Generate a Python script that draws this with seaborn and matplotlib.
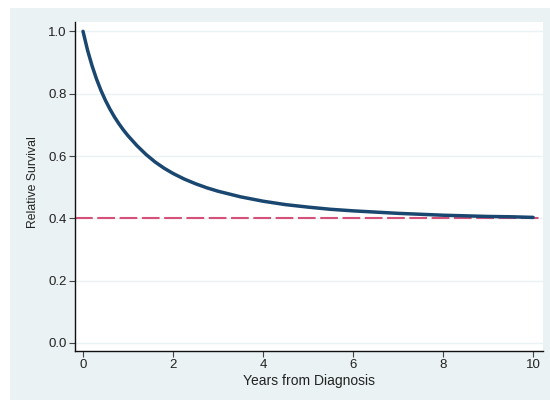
import numpy as np
import pandas as pd
import matplotlib
matplotlib.use("Agg")
import matplotlib.pyplot as plt
from matplotlib.patches import Rectangle
import seaborn as sns

# Valores
years = [0.0, 0.1, 0.2, 0.3, 0.4, 0.5, 0.6, 0.7, 0.8, 0.9, 1.0,
         1.2, 1.4, 1.6, 1.8, 2.0, 2.25, 2.5, 2.75, 3.0, 3.5, 4.0, 4.5,
         5.0, 5.5, 6.0, 6.5, 7.0, 7.5, 8.0, 8.5, 9.0, 9.5, 10.0]
rel_survival = [1.000, 0.940, 0.890, 0.847, 0.810, 0.778, 0.750, 0.725,
                0.703, 0.683, 0.665, 0.633, 0.605, 0.581, 0.561, 0.544,
                0.526, 0.511, 0.498, 0.487, 0.469, 0.455, 0.444, 0.436,
                0.429, 0.424, 0.420, 0.416, 0.413, 0.410, 0.408, 0.406,
                0.405, 0.403]
cure_level = 0.4

x_ticks = [0, 2, 4, 6, 8, 10]
y_ticks = [0.0, 0.2, 0.4, 0.6, 0.8, 1.0]

df = pd.DataFrame({"years": years, "rs": rel_survival})

sns.set_theme(style="white")
plt.rcParams["font.family"] = ["Liberation Sans", "DejaVu Sans"]

BG = "#eaf2f3"
NAVY = "#1a476f"
RED = "#d6517a"

fig = plt.figure(figsize=(5.5, 4), dpi=100)
fig.patch.set_facecolor("white")
fig.patches.append(Rectangle((10 / 550, 0), 540 / 550, 392 / 400,
                             transform=fig.transFigure, facecolor=BG,
                             edgecolor="none", zorder=-10))

ax = fig.add_axes([75 / 550, 49 / 400, 468 / 550, 329 / 400])
ax.set_facecolor("white")

for yv in y_ticks:
    ax.axhline(yv, color=BG, linewidth=1.0, zorder=0)

sns.lineplot(data=df, x="years", y="rs", ax=ax, color=NAVY, linewidth=2.5,
             zorder=3)
ax.axhline(cure_level, color=RED, linewidth=1.5, dashes=(8.5, 2.2), zorder=2)

ax.set_xlim(-0.178, 10.22)
ax.set_ylim(-0.0257, 1.03)
ax.set_xticks(x_ticks)
ax.set_xticklabels([str(t) for t in x_ticks])
ax.set_yticks(y_ticks)
ax.set_yticklabels([f"{t:.1f}" for t in y_ticks])

ax.set_xlabel("Years from Diagnosis", fontsize=10, color="#222222", labelpad=2)
ax.set_ylabel("Relative Survival", fontsize=8.8, color="#222222")
ax.yaxis.set_label_coords(-0.077, 0.514)

ax.tick_params(axis="both", which="major", direction="out", length=4,
               width=0.8, color="#444444", labelsize=9.5, labelcolor="#222222",
               pad=2, left=True, bottom=True)

for side in ["top", "right"]:
    ax.spines[side].set_visible(False)
for side in ["left", "bottom"]:
    ax.spines[side].set_color("#111111")
    ax.spines[side].set_linewidth(1.0)

plt.savefig("out.png", dpi=100, facecolor=fig.get_facecolor())
plt.close()
